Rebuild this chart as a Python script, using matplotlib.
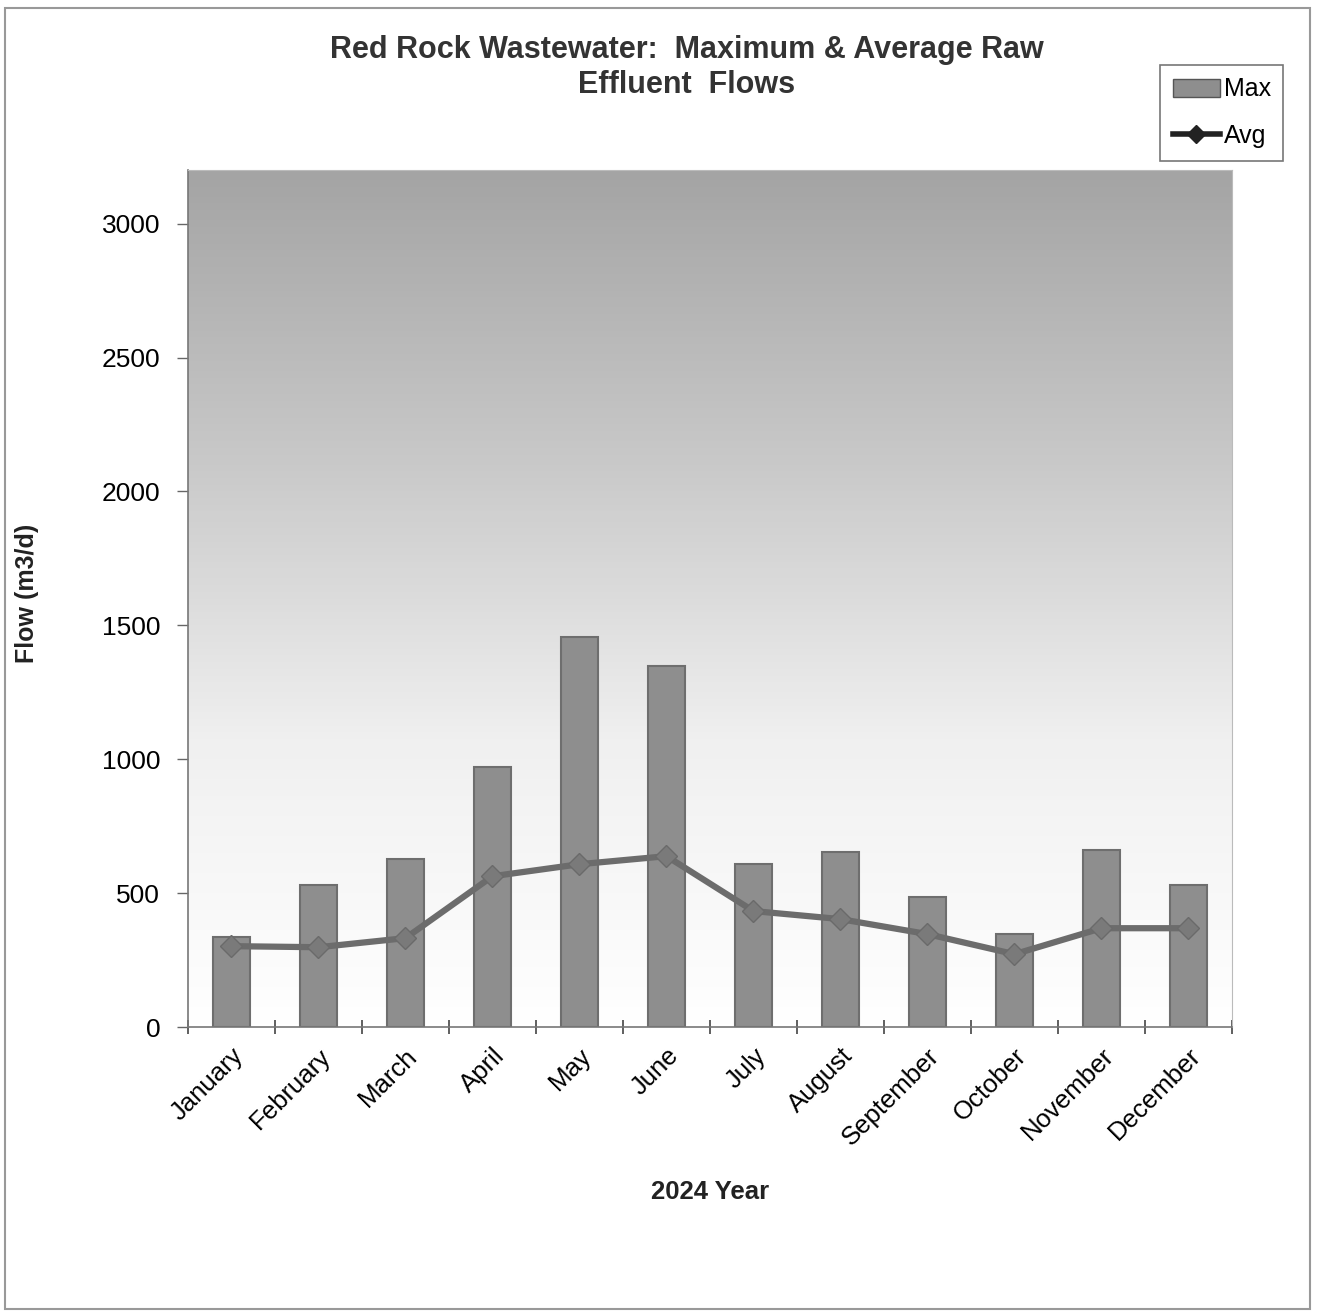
import numpy as np
import matplotlib
matplotlib.use("Agg")
import matplotlib.pyplot as plt
from matplotlib.patches import Rectangle, Patch
from matplotlib.lines import Line2D
from matplotlib.colors import LinearSegmentedColormap

months = ["January", "February", "March", "April", "May", "June", "July",
          "August", "September", "October", "November", "December"]
max_flow = [336, 530, 627, 970, 1455, 1347, 608, 653, 485, 347, 660, 530]
avg_flow = [302, 298, 332, 563, 608, 638, 433, 403, 347, 272, 369, 369]
yticks = [0, 500, 1000, 1500, 2000, 2500, 3000]

plt.rcParams['font.family'] = ['Liberation Sans', 'DejaVu Sans']

fig = plt.figure(figsize=(13.21, 13.12), dpi=100)
fig.patch.set_facecolor('white')
ax = fig.add_axes([0.1423, 0.2172, 0.7903, 0.6532])

x = np.arange(len(months))
# gradient background: white at bottom, gray at top
grad = np.linspace(0, 1, 256).reshape(-1, 1)
cmap = LinearSegmentedColormap.from_list('bg', ['#ffffff', '#f0f0f0', '#c8c8c8', '#a4a4a4'])
ax.imshow(grad, aspect='auto', cmap=cmap, extent=[-0.5, len(months) - 0.5, 0, 3200],
          origin='lower', zorder=0)

ax.bar(x, max_flow, width=0.43, color='#8e8e8e', edgecolor='#6e6e6e', linewidth=1.5,
       zorder=2, label='Max')
ax.plot(x, avg_flow, color='#6c6c6c', lw=4.5, marker='D', markersize=11,
        markerfacecolor='#7a7a7a', markeredgecolor='#6a6a6a', zorder=3, label='Avg')

ax.set_xlim(-0.5, len(months) - 0.5)
ax.set_ylim(0, 3200)
ax.set_yticks(yticks)
ax.set_yticklabels([str(t) for t in yticks], fontsize=19)
ax.set_xticks(x)
ax.set_xticklabels(months, rotation=45, ha='right', rotation_mode='anchor', fontsize=18.5)
ax.tick_params(axis='x', length=0, pad=12)
ax.set_xticks(np.arange(len(months) + 1) - 0.5, minor=True)
ax.tick_params(axis='x', which='minor', length=10, width=1.2, color='#444444', direction='inout')
ax.tick_params(axis='y', length=8, width=1, color='#666666', pad=12)
for s in ['top', 'right']:
    ax.spines[s].set_color('#bbbbbb')
for s in ['left', 'bottom']:
    ax.spines[s].set_color('#777777')
    ax.spines[s].set_linewidth(1.2)

ax.set_xlabel('2024 Year', fontsize=18.5, fontweight='bold', labelpad=22, color='#222222')
fig.text(27 / 1321, 1 - 593 / 1312, 'Flow (m3/d)', rotation=90, ha='center', va='center',
         fontsize=18, fontweight='bold', color='#222222')

fig.text(0.520, 1 - 50 / 1312, 'Red Rock Wastewater:  Maximum & Average Raw', ha='center',
         va='center', fontsize=22, fontweight='bold', color='#333333')
fig.text(0.520, 1 - 85 / 1312, 'Effluent  Flows', ha='center', va='center',
         fontsize=22, fontweight='bold', color='#333333')

handles = [Patch(facecolor='#8e8e8e', edgecolor='#555555', label='Max'),
           Line2D([0], [0], color='#222222', lw=4, marker='D', markersize=9, label='Avg')]
leg = fig.legend(handles=handles, loc='upper left', bbox_to_anchor=(1160 / 1321, 1 - 65 / 1312),
                 borderaxespad=0, fontsize=18, frameon=True, fancybox=False, edgecolor='#555555',
                 handlelength=1.9, handletextpad=0.15, labelspacing=0.9, borderpad=0.5)
leg.get_frame().set_linewidth(1.2)

fig.patches.append(Rectangle((0.004, 0.002), 0.988, 0.992, transform=fig.transFigure,
                             fill=False, edgecolor='#999999', linewidth=1.5))

fig.savefig('out.png', dpi=100)
